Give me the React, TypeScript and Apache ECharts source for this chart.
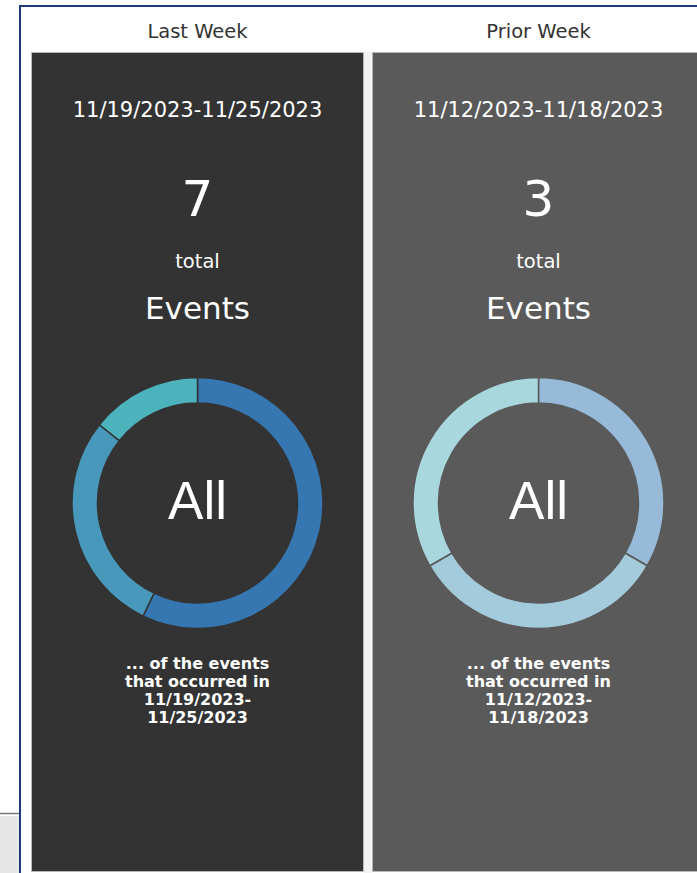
import React, { useEffect, useRef } from "react";
import * as echarts from "echarts";

const weekLabels = ["Last Week", "Prior Week"];
const dateRanges = [
  ["11/19/2023", "11/25/2023"],
  ["11/12/2023", "11/18/2023"],
];
const totals = [7, 3];
const segmentNames = ["A", "B", "C"];
const lastWeekValues = [4, 2, 1];
const priorWeekValues = [1, 1, 1];
const lastWeekColors = ["#3677b1", "#4898bb", "#4cb2bb"];
const priorWeekColors = ["#97bad8", "#a4cbdb", "#a8d8dd"];
const panelColors = ["#333333", "#5a5a5a"];

export default function App() {
  const ref = useRef<HTMLDivElement>(null);

  useEffect(() => {
    document.body.style.margin = "0";
    const chart = echarts.init(ref.current!, null, { renderer: "svg" });

    const panelX = [31, 372];
    const panelW = 333;
    const centers = panelX.map((x) => x + panelW / 2);
    const valuesList = [lastWeekValues, priorWeekValues];
    const colorsList = [lastWeekColors, priorWeekColors];

    const graphics: any[] = [
      { type: "rect", shape: { x: 0, y: 816, width: 20, height: 57 }, style: { fill: "#e6e6e6" }, z: 1 },
      { type: "line", shape: { x1: 0, y1: 813.5, x2: 20, y2: 813.5 }, style: { stroke: "#777", lineWidth: 1.5 }, z: 2 },
      { type: "line", shape: { x1: 20, y1: 6, x2: 697, y2: 6 }, style: { stroke: "#1f3a7c", lineWidth: 2 }, z: 5 },
      { type: "line", shape: { x1: 20, y1: 5, x2: 20, y2: 873 }, style: { stroke: "#1f3a7c", lineWidth: 2 }, z: 5 },
      { type: "rect", shape: { x: 364, y: 52, width: 8, height: 821 }, style: { fill: "#f3f3f3" }, z: 1 },
    ];

    panelX.forEach((px, i) => {
      const cx = centers[i];
      const [d1, d2] = dateRanges[i];
      graphics.push(
        {
          type: "rect",
          shape: { x: px + 0.5, y: 52.5, width: panelW - 1, height: 819 },
          style: { fill: panelColors[i], stroke: "#b8b8b8", lineWidth: 1 },
          z: 2,
        },
        {
          type: "text",
          x: cx,
          y: 31,
          style: { text: weekLabels[i], fill: "#333333", fontSize: 19.5, fontFamily: "DejaVu Sans", align: "center", verticalAlign: "middle" },
          z: 3,
        },
        {
          type: "text",
          x: cx,
          y: 110,
          style: { text: `${d1}-${d2}`, fill: "#ffffff", fontSize: 21, fontFamily: "DejaVu Sans", align: "center", verticalAlign: "middle" },
          z: 3,
        },
        {
          type: "text",
          x: cx,
          y: 199,
          style: { text: String(totals[i]), fill: "#ffffff", fontSize: 50, fontFamily: "DejaVu Sans", align: "center", verticalAlign: "middle" },
          z: 3,
        },
        {
          type: "text",
          x: cx,
          y: 261,
          style: { text: "total", fill: "#ffffff", fontSize: 19.5, fontFamily: "DejaVu Sans", align: "center", verticalAlign: "middle" },
          z: 3,
        },
        {
          type: "text",
          x: cx,
          y: 308,
          style: { text: "Events", fill: "#ffffff", fontSize: 31, fontFamily: "DejaVu Sans", align: "center", verticalAlign: "middle" },
          z: 3,
        },
        {
          type: "text",
          x: cx,
          y: 500,
          style: { text: "All", fill: "#ffffff", fontSize: 53, fontFamily: "Liberation Sans", align: "center", verticalAlign: "middle" },
          z: 3,
        },
        {
          type: "text",
          x: cx,
          y: 690,
          style: {
            text: `... of the events\nthat occurred in\n${d1}-\n${d2}`,
            fill: "#ffffff",
            fontSize: 16,
            fontWeight: "bold",
            lineHeight: 18,
            fontFamily: "DejaVu Sans",
            align: "center",
            verticalAlign: "middle",
          },
          z: 3,
        }
      );
    });

    const series = valuesList.map((vals, i) => ({
      type: "pie",
      center: [centers[i], 503],
      radius: [100, 125.5],
      startAngle: 90,
      clockwise: true,
      silent: true,
      label: { show: false },
      labelLine: { show: false },
      z: 10,
      itemStyle: { borderColor: panelColors[i], borderWidth: 1.5 },
      data: vals.map((v, j) => ({ name: segmentNames[j], value: v, itemStyle: { color: colorsList[i][j] } })),
    }));

    chart.setOption({
      animation: false,
      backgroundColor: "#ffffff",
      graphic: graphics,
      series,
    });

    return () => chart.dispose();
  }, []);

  return <div ref={ref} style={{ position: "fixed", left: 0, top: 0, width: 697, height: 873 }} />;
}
